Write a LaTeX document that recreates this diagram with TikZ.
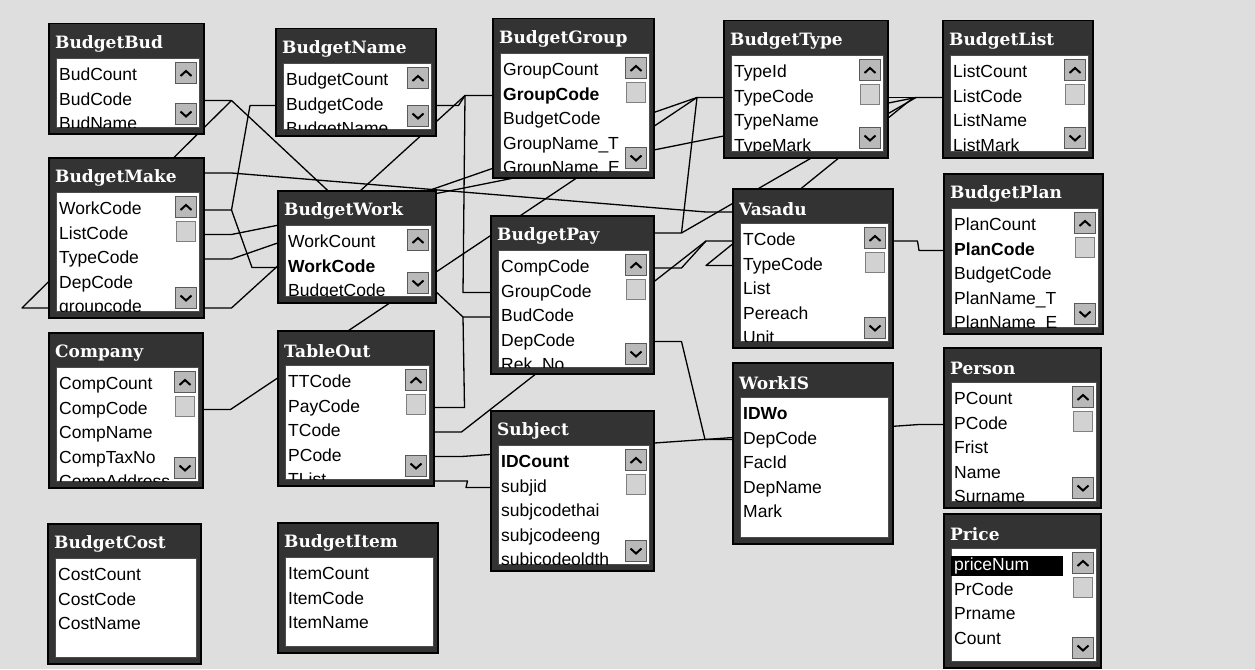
\documentclass[tikz,border=0pt]{standalone}
\usepackage{fontspec}
\setmainfont{Liberation Sans}
\newfontfamily\titlefont{DejaVu Serif}
\usetikzlibrary{backgrounds}
\begin{document}
\begin{tikzpicture}[x=1pt,y=-1pt,font=\fontsize{17.5}{17.5}\selectfont,
  tbox/.style={draw=black,line width=1.5pt,fill=tbar,anchor=north west,inner sep=0pt},
  list/.style={fill=white,draw=black!70,line width=0.6pt},
  ttitle/.style={anchor=west,inner sep=0pt,text=white,font=\titlefont\bfseries\fontsize{17}{17}\selectfont},
  field/.style={anchor=west,inner sep=0pt,text height=12.5pt,text depth=3.5pt},
  btn/.style={fill=gray!55,draw=black!65,line width=0.6pt},
  thumb/.style={fill=gray!35,draw=black!50,line width=0.5pt},
  chev/.style={line width=2pt},
  rel/.style={draw=black,line width=1.3pt,line join=round}]
  \definecolor{paper}{gray}{0.87}
  \definecolor{tbar}{gray}{0.2}
  \useasboundingbox (0,0) rectangle (1255,669);
  \foreach \n/\x/\y/\w/\h/\t/\f in {
      bbud/48/23/155/110/BudgetBud/{BudCount,BudCode,BudName},
      bname/275/28/160/107/BudgetName/{BudgetCount,BudgetCode,BudgetName},
      bgroup/492/18/161/159/BudgetGroup/{GroupCount,\textbf{GroupCode},BudgetCode,GroupName\_T,GroupName\_E},
      btype/723/20/164/137/BudgetType/{TypeId,TypeCode,TypeName,TypeMark},
      blist/942/20/150/137/BudgetList/{ListCount,ListCode,ListName,ListMark},
      bmake/48/157/155/160/BudgetMake/{WorkCode,ListCode,TypeCode,DepCode,groupcode},
      bwork/277/190/158/112/BudgetWork/{WorkCount,\textbf{WorkCode},BudgetCode},
      bpay/490/215/163/158/BudgetPay/{CompCode,GroupCode,BudCode,DepCode,Rek\_No},
      vasadu/732/188/160/159/Vasadu/{TCode,TypeCode,List,Pereach,Unit},
      bplan/943/173/159/160/BudgetPlan/{PlanCount,\textbf{PlanCode},BudgetCode,PlanName\_T,PlanName\_E},
      company/48/332/154/155/Company/{CompCount,CompCode,CompName,CompTaxNo,CompAddress},
      tableout/277/330/156/155/TableOut/{TTCode,PayCode,TCode,PCode,TList},
      subject/490/410/163/160/Subject/{\textbf{IDCount},subjid,subjcodethai,subjcodeeng,subjcodeoldth},
      workis/732/362/160/181/WorkIS/{\textbf{IDWo},DepCode,FacId,DepName,Mark},
      person/943/347/157/160/Person/{PCount,PCode,Frist,Name,Surname},
      price/943/513/157/154/Price/{priceNum,PrCode,Prname,Count},
      bcost/47/523/153/140/BudgetCost/{CostCount,CostCode,CostName},
      bitem/277/522/160/130/BudgetItem/{ItemCount,ItemCode,ItemName}}{
    \node[tbox,minimum width=\w,minimum height=\h] (\n) at (\x,\y) {};
    \path[list] ([xshift=8pt,yshift=-35pt]\n.north west) rectangle ([xshift=-5pt,yshift=7pt]\n.south east);
    \node[ttitle] at ([xshift=7pt,yshift=-21pt]\n.north west) {\t};
    \begin{scope}
      \clip ([xshift=8pt,yshift=-35pt]\n.north west) rectangle ([xshift=-5pt,yshift=7pt]\n.south east);
      \foreach \g [count=\i] in \f
        \node[field] (\n-\i) at ([xshift=11pt,yshift={-(28.5+24.5*\i)}]\n.north west) {\g};
    \end{scope}
  }
  \fill[black] ([xshift=-3pt,yshift=2pt]price-1.north west) rectangle ([xshift=34pt,yshift=-2pt]price-1.south east);
  \node[field,text=white] at (price-1.west) {priceNum};
  \foreach \n in {bgroup,btype,blist,bmake,bpay,vasadu,bplan,company,tableout,subject,person,price}
    \path[thumb] ([xshift=-28pt,yshift=-64pt]\n.north east) rectangle ([xshift=-9pt,yshift=-84pt]\n.north east);
  \foreach \n in {bbud,bname,bgroup,btype,blist,bmake,bwork,bpay,vasadu,bplan,company,tableout,subject,person,price}{
    \path[btn] ([xshift=-29pt,yshift=-39pt]\n.north east) rectangle ([xshift=-8pt,yshift=-60pt]\n.north east);
    \draw[chev] ([xshift=-24pt,yshift=-53pt]\n.north east) -- ++(5.5pt,5pt) -- ++(5.5pt,-5pt);
    \path[btn] ([xshift=-29pt,yshift=10pt]\n.south east) rectangle ([xshift=-8pt,yshift=31pt]\n.south east);
    \draw[chev] ([xshift=-24pt,yshift=23pt]\n.south east) -- ++(5.5pt,-5pt) -- ++(5.5pt,5pt);
  }
  \begin{scope}[on background layer]
    \fill[paper] (0,0) rectangle (1255,669);
    \draw[rel] (bbud.east |- bbud-2) -- ++(27,0) coordinate (jbud)
      -- ([xshift=-26pt]bmake.west |- bmake-5) -- (bmake.west |- bmake-5);
    \draw[rel] (jbud) -- ([xshift=-27pt]bpay.west |- bpay-3) -- (bpay.west |- bpay-3);
    \draw[rel] (bmake.east |- bmake-1) -- ++(27,0) coordinate (jwc)
      -- ([xshift=-25pt]bwork.west |- bwork-2) -- (bwork.west |- bwork-2);
    \draw[rel] (jwc) -- ([xshift=-25pt]bname.west |- bname-2) -- (bname.west |- bname-2);
    \draw[rel] (bgroup.west |- bgroup-2) -- ++(-27,0) coordinate (jgrp)
      -- ([xshift=22pt]bname.east |- bname-2) -- (bname.east |- bname-2);
    \draw[rel] (jgrp) -- ([xshift=27pt]bmake.east |- bmake-5) -- (bmake.east |- bmake-5);
    \draw[rel] (jgrp) -- ([xshift=-27pt]bpay.west |- bpay-2) -- (bpay.west |- bpay-2);
    \draw[rel] (bmake.east |- bmake-2) -- ++(27,0)
      -- ([xshift=-26pt]blist.west |- blist-2) coordinate (jlst) -- (blist.west |- blist-2);
    \draw[rel] (btype.west |- btype-2) -- ++(-26,0) coordinate (jtyp)
      -- ([xshift=27pt]bmake.east |- bmake-3) -- (bmake.east |- bmake-3);
    \draw[rel] (jtyp) -- ([xshift=27pt]company.east |- company-2) -- (company.east |- company-2);
    \draw[rel] (jtyp) -- ([xshift=27pt,yshift=-18pt]bpay.north east) coordinate (jpay)
      -- ([yshift=-18pt]bpay.north east);
    \draw[rel] (jlst) -- (jpay);
    \draw[rel] (btype.east |- btype-2) -- ++(25,0) coordinate (jtyp2) -- (jlst);
    \draw[rel] (jtyp2) -- ([xshift=-26pt]vasadu.west |- vasadu-2) -- (vasadu.west |- vasadu-2);
    \draw[rel] ([yshift=-16pt]bmake.north east) -- ++(27,0)
      -- ([xshift=-26pt,yshift=-24pt]vasadu.north west) -- ([yshift=-24pt]vasadu.north west);
    \draw[rel] (vasadu.east |- vasadu-1) -- ++(24,0)
      -- ([xshift=-24pt]bplan.west |- bplan-2) -- (bplan.west |- bplan-2);
    \draw[rel] (vasadu.west |- vasadu-1) -- ++(-26,0) coordinate (jvas)
      -- ([xshift=27pt]bpay.east |- bpay-1) -- (bpay.east |- bpay-1);
    \draw[rel] (jvas) -- ([xshift=27pt]tableout.east |- tableout-3) -- (tableout.east |- tableout-3);
    \draw[rel] (tableout.east |- tableout-4) -- ++(27,0)
      -- ([xshift=-24pt]person.west |- person-2) -- (person.west |- person-2);
    \draw[rel] (bpay.east |- bpay-4) -- ++(27,0)
      -- ([xshift=-27pt]workis.west |- workis-2) -- (workis.west |- workis-2);
    \draw[rel] (tableout.east |- tableout-5) -- ++(33,0)
      -- ([xshift=-24pt]subject.west |- subject-2) -- (subject.west |- subject-2);
    \draw[rel] (tableout.east |- tableout-2) -- ++(30,0) -- ([xshift=-27pt]bpay.west |- bpay-3);
  \end{scope}
\end{tikzpicture}
\end{document}
